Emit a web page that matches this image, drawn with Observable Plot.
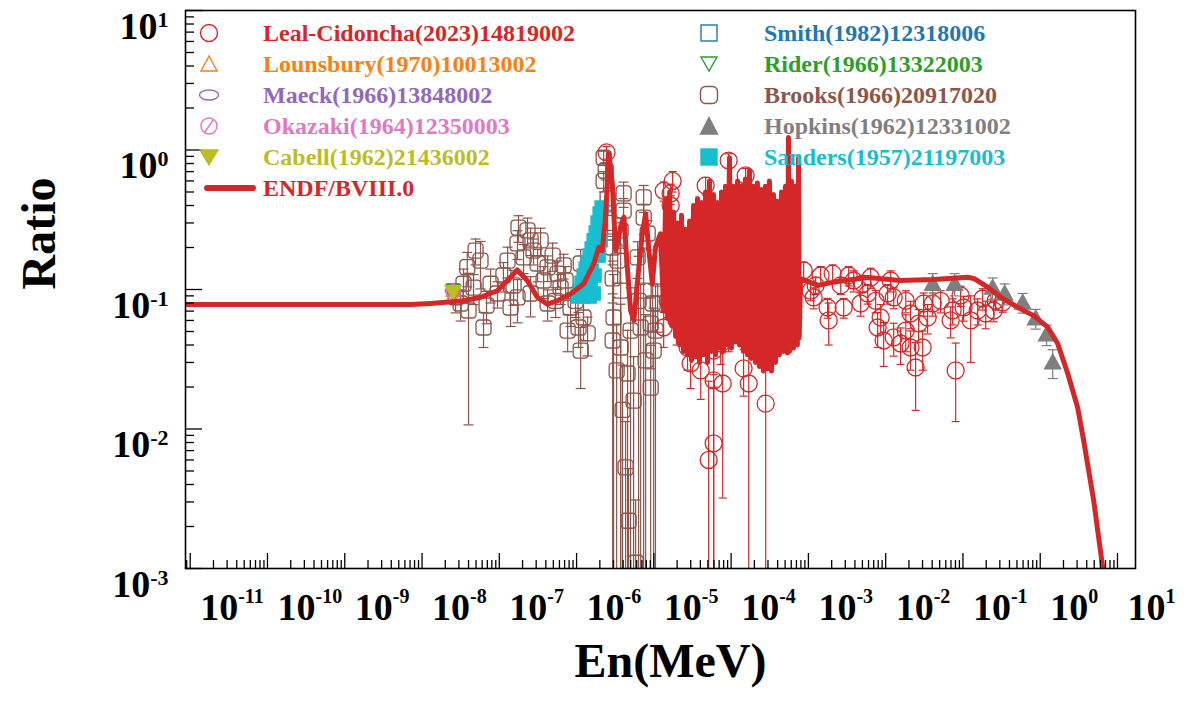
<!DOCTYPE html>
<html><head><meta charset="utf-8">
<script src="https://cdn.jsdelivr.net/npm/d3@7"></script>
<script src="https://cdn.jsdelivr.net/npm/@observablehq/plot@0.6"></script>
<style>
body{margin:0;background:#fff;}
#wrap{position:relative;width:1193px;height:701px;font-family:"Liberation Serif","Times New Roman",serif;}
.leg{position:absolute;font-weight:bold;font-size:24px;line-height:30px;white-space:nowrap;}
.ico{position:absolute;}
</style></head><body><div id="wrap"></div>
<script>
// ---------- axis ticks ----------
const xTicks = [1e-11,1e-10,1e-9,1e-8,1e-7,1e-6,1e-5,1e-4,1e-3,1e-2,1e-1,1,10];
const xTickLabels = ["10^-11","10^-10","10^-9","10^-8","10^-7","10^-6","10^-5","10^-4","10^-3","10^-2","10^-1","10^0","10^1"];
const yTicks = [1e-3,1e-2,1e-1,1,10];
const yTickLabels = ["10^-3","10^-2","10^-1","10^0","10^1"];

// ---------- ENDF/B-VIII.0 ----------
const endfE = [8.7e-12,7.1e-9,1.29e-8,3.45e-8,5.73e-8,9.42e-8,1.27e-7,1.71e-7,2.30e-7,3.10e-7,4.18e-7,5.62e-7,8.36e-7,1.24e-6,1.67e-6,1.94e-6,2.15e-6,2.37e-6,2.62e-6,2.90e-6,3.20e-6,3.71e-6,4.10e-6,4.53e-6,5.0e-6,5.52e-6,6.1e-6,7.08e-6,7.82e-6,8.63e-6,9.55e-6,1.05e-5,1.22e-5,
1.34e-5,1.42e-5,1.51e-5,1.60e-5,1.70e-5,1.80e-5,1.91e-5,2.03e-5,2.15e-5,2.28e-5,2.42e-5,2.57e-5,2.73e-5,2.90e-5,3.07e-5,3.26e-5,3.46e-5,3.67e-5,3.90e-5,4.14e-5,4.39e-5,4.66e-5,4.95e-5,5.25e-5,5.57e-5,5.91e-5,6.28e-5,6.66e-5,7.07e-5,7.50e-5,7.96e-5,8.45e-5,8.97e-5,9.52e-5,
1.01e-4,1.07e-4,1.14e-4,1.21e-4,1.28e-4,1.36e-4,1.44e-4,1.53e-4,1.63e-4,1.73e-4,1.83e-4,1.95e-4,2.07e-4,2.19e-4,2.33e-4,2.47e-4,2.62e-4,2.78e-4,2.95e-4,3.13e-4,3.33e-4,3.53e-4,3.75e-4,3.98e-4,4.22e-4,4.48e-4,4.76e-4,5.05e-4,5.36e-4,5.52e-4,5.69e-4,6.04e-4,6.40e-4,6.80e-4,7.20e-4,7.45e-4,7.60e-4,7.90e-4,
1.32e-3,2.12e-3,5.85e-3,0.0156,0.0418,0.115,0.138,0.209,0.308,0.51,0.82,1.25,1.68,2.27,3.05,3.65,4.92,6.43,6.9];
const endfR = [0.078,0.078,0.0795,0.083,0.088,0.098,0.116,0.138,0.116,0.088,0.0785,0.083,0.093,0.110,0.153,0.201,0.19,0.33,0.94,0.573,0.19,0.28,0.33,0.1445,0.0707,0.060,0.110,0.251,0.349,0.19,0.110,0.201,0.251,
0.070,0.45,0.062,0.50,0.055,0.36,0.046,0.30,0.040,0.34,0.036,0.27,0.034,0.31,0.031,0.40,0.033,0.45,0.030,0.42,0.034,0.50,0.030,0.60,0.036,0.48,0.034,0.42,0.038,0.50,0.036,0.55,0.040,0.88,
0.038,0.55,0.042,0.60,0.040,0.55,0.036,0.62,0.034,0.71,0.032,0.55,0.030,0.58,0.028,0.52,0.026,0.55,0.027,0.60,0.026,0.48,0.030,0.43,0.034,0.50,0.036,0.55,0.035,1.23,0.036,0.60,0.038,0.55,0.040,0.88,0.045,0.12,
0.107,0.113,0.122,0.116,0.118,0.1225,0.12,0.104,0.088,0.0747,0.065,0.0537,0.041,0.025,0.01426,0.00828,0.00307,0.00102,0.0007];

// ---------- Leal-Cidoncha (2023) 14819002 ----------
const lealE = [2.44e-6,1.34e-5,1.34e-5,1.51e-5,1.51e-5,1.65e-5,1.65e-5,1.75e-5,1.97e-5,1.97e-5,2.73e-5,2.99e-5,4.04e-5,4.68e-5,5.12e-5,5.94e-5,5.94e-5,5.94e-5,7.33e-5,7.78e-5,9.29e-5,9.29e-5,1.45e-4,1.54e-4,1.69e-4,2.8e-4,8.69e-4,1.17e-3,
1.07e-3,1.24e-3,1.44e-3,1.77e-3,1.83e-3,2.06e-3,2.62e-3,2.86e-3,3.32e-3,3.86e-3,4.74e-3,5.04e-3,5.85e-3,6.4e-3,7.41e-3,7.87e-3,8.61e-3,9.42e-3,0.0106,0.0116,0.0127,0.0127,0.0156,0.0182,0.0182,0.021,0.021,0.0244,0.0267,0.0301,0.031,0.0349,0.0406,0.0515,0.0693,0.0736,0.0805,0.0933,0.102,0.126,0.155,0.18,0.197,0.25,0.265,0.327];
const lealR = [0.96,0.51,0.0534,0.19,0.083,0.488,0.40,0.60,0.06,0.137,0.0384,0.0295,0.0263,0.556,0.0060,0.0079,0.0365,0.0223,0.041,0.0212,0.0508,0.84,0.0272,0.657,0.0212,0.0152,0.137,0.0877,
0.098,0.107,0.126,0.0743,0.060,0.130,0.107,0.0743,0.126,0.116,0.0794,0.110,0.0936,0.122,0.083,0.0534,0.063,0.0431,0.0936,0.116,0.0877,0.0453,0.041,0.083,0.0508,0.0384,0.0673,0.0276,0.057,0.0384,0.0794,0.063,0.0794,0.083,0.060,0.0707,0.0263,0.0906,0.0743,0.060,0.0707,0.0862,0.0673,0.0707,0.083,0.0807];
const lealErr = [0.1,0.08,0.015,0.04,0.02,0.08,0.07,0.1,0.02,0.03,0.012,0.01,0.01,0.08,0.016,0.012,0.012,0.03,0.012,0.018,0.015,0.1,0.01,0.08,0.03,0.02,0.02,0.015,
0.015,0.015,0.02,0.012,0.02,0.02,0.015,0.012,0.02,0.02,0.015,0.015,0.015,0.02,0.015,0.015,0.015,0.015,0.015,0.02,0.015,0.012,0.012,0.015,0.015,0.012,0.015,0.014,0.015,0.012,0.015,0.015,0.015,0.015,0.015,0.015,0.015,0.015,0.015,0.03,0.015,0.015,0.015,0.012,0.012,0.012];

// ---------- Brooks (1966) 20917020 ----------
const brooksE = [2.72e-8,3.16e-8,3.44e-8,3.85e-8,4.0e-8,4.65e-8,4.93e-8,5.71e-8,6.25e-8,6.84e-8,7.71e-8,9.48e-8,1.13e-7,1.28e-7,1.40e-7,1.53e-7,1.72e-7,1.77e-7,1.72e-7,2.06e-7,2.32e-7,2.54e-7,2.54e-7,2.77e-7,3.13e-7,3.42e-7,3.74e-7,4.22e-7,4.22e-7,4.9e-7,5.35e-7,5.67e-7,6.21e-7,6.8e-7,7.21e-7,7.66e-7,8.36e-7,9.7e-7,1.06e-6,1.13e-6,1.13e-6,1.23e-6,1.39e-6,
2.24e-6,2.38e-6,2.24e-6,2.52e-6,2.52e-6,2.93e-6,2.93e-6,2.93e-6,3.01e-6,3.3e-6,3.40e-6,3.72e-6,3.72e-6,3.94e-6,4.06e-6,4.06e-6,3.72e-6,4.31e-6,4.57e-6,4.71e-6,5.0e-6,5.47e-6,5.81e-6,6.17e-6,6.35e-6,6.75e-6,7.38e-6,7.38e-6,7.38e-6,7.83e-6,8.32e-6,9.1e-6,9.1e-6,9.66e-6,9.95e-6,1.05e-5,1.12e-5];
const brooksR = [0.088,0.0794,0.110,0.1445,0.0707,0.103,0.19,0.161,0.0534,0.0768,0.110,0.0936,0.126,0.161,0.0743,0.107,0.214,0.278,0.0877,0.170,0.265,0.225,0.0936,0.19,0.1536,0.225,0.116,0.144,0.0794,0.175,0.083,0.130,0.103,0.149,0.116,0.0508,0.0743,0.083,0.0534,0.0365,0.1536,0.063,0.0484,
0.88,0.71,0.60,0.45,0.30,0.20,0.12,0.0431,0.063,0.0263,0.161,0.265,0.098,0.0137,0.488,0.368,0.0384,0.0053,0.025,0.0022,0.0508,0.016,0.0011,0.170,0.083,0.0534,0.457,0.328,0.098,0.031,0.252,0.0198,0.057,0.0794,0.0365,0.0508,0.0794];
const brooksErr = [0.02,0.02,0.03,0.04,0.06,0.025,0.04,0.06,0.015,0.02,0.03,0.02,0.03,0.04,0.02,0.03,0.05,0.06,0.03,0.04,0.06,0.05,0.03,0.04,0.04,0.05,0.03,0.03,0.02,0.04,0.02,0.03,0.025,0.03,0.03,0.015,0.02,0.02,0.015,0.017,0.04,0.02,0.015,
0.1,0.1,0.1,0.08,0.06,0.05,0.04,0.05,0.065,0.03,0.05,0.06,0.1,0.015,0.1,0.08,0.04,0.006,0.026,0.003,0.052,0.017,0.002,0.05,0.09,0.055,0.1,0.08,0.1,0.035,0.06,0.02,0.03,0.03,0.037,0.055,0.03];

// ---------- Hopkins (1962) 12331002 ----------
const hopkinsE = [0.0406,0.078,0.242,0.347,0.593,0.873,1.21,1.45];
const hopkinsR = [0.110,0.110,0.103,0.0936,0.0807,0.062,0.0476,0.030];
const hopkinsErr = [0.02,0.02,0.018,0.016,0.013,0.01,0.008,0.007];

// ---------- Sanders (1957) 21197003 ----------
const sandersE = [1.03e-6,1.094e-6,1.16e-6,1.233e-6,1.31e-6,1.39e-6,1.476e-6,1.567e-6,1.665e-6,1.768e-6,1.87e-6,1.99e-6,2.11e-6,1.35e-6,1.52e-6,1.71e-6,1.93e-6,2.05e-6,1.233e-6,1.476e-6,1.665e-6,1.39e-6,1.567e-6,1.768e-6,1.99e-6];
const sandersR = [0.089,0.098,0.112,0.126,0.1415,0.156,0.175,0.197,0.225,0.256,0.302,0.351,0.387,0.0951,0.107,0.126,0.175,0.225,0.089,0.089,0.0936,0.116,0.137,0.175,0.225];

// ---------- thermal-point measurements (0.0253 eV) ----------
const thermalE = 2.53e-8;
const smithR = 0.0995, riderR = 0.099, lounsburyR = 0.0985, maeckR = 0.098, okazakiR = 0.096, cabellR = 0.096;

// ---------- colours ----------
const C = {leal:"#d62728", lounsbury:"#ff7f0e", maeck:"#9467bd", okazaki:"#e377c2", cabell:"#bcbd22",
  smith:"#1f77b4", rider:"#2ca02c", brooks:"#8c564b", hopkins:"#7f7f7f", sanders:"#17becf", endf:"#d62728"};

// ---------- tables ----------
const rows = (E, R, Er) => E.map((e, i) => ({E: e, R: R[i], err: Er ? Er[i] : 0}));
const endf = rows(endfE, endfR);
const leal = rows(lealE, lealR, lealErr);
const brooks = rows(brooksE, brooksR, brooksErr);
const hopkins = rows(hopkinsE, hopkinsR, hopkinsErr);
const sanders = rows(sandersE, sandersR);

const minorX = [], minorY = [];
for (let n = -12; n <= 1; n++) for (let k = 2; k <= 9; k++) { const v = k * 10 ** n; if (v > 8.7e-12 && v < 17) minorX.push(v); }
for (let n = -3; n <= 0; n++) for (let k = 2; k <= 9; k++) minorY.push(k * 10 ** n);

// ---------- custom symbols ----------
const rad = s => Math.sqrt(s / Math.PI);
const sym = {
  roundSquare: {draw(c, s) { const r = rad(s), k = r * 0.45;
    c.moveTo(-r + k, -r); c.lineTo(r - k, -r); c.arcTo(r, -r, r, -r + k, k); c.lineTo(r, r - k); c.arcTo(r, r, r - k, r, k);
    c.lineTo(-r + k, r); c.arcTo(-r, r, -r, r - k, k); c.lineTo(-r, -r + k); c.arcTo(-r, -r, -r + k, -r, k); c.closePath(); }},
  square: {draw(c, s) { const r = rad(s); c.rect(-r, -r, 2 * r, 2 * r); }},
  triUp: {draw(c, s) { const r = rad(s); c.moveTo(0, -r); c.lineTo(r, r * 0.8); c.lineTo(-r, r * 0.8); c.closePath(); }},
  triDown: {draw(c, s) { const r = rad(s); c.moveTo(0, r); c.lineTo(r, -r * 0.8); c.lineTo(-r, -r * 0.8); c.closePath(); }},
  cap: {draw(c, s) { const r = rad(s); c.moveTo(-r, 0); c.lineTo(r, 0); }},
  ellipse: {draw(c, s) { const a = rad(s), b = a * 0.5, k = 0.5523;
    c.moveTo(a, 0); c.bezierCurveTo(a, b * k, a * k, b, 0, b); c.bezierCurveTo(-a * k, b, -a, b * k, -a, 0);
    c.bezierCurveTo(-a, -b * k, -a * k, -b, 0, -b); c.bezierCurveTo(a * k, -b, a, -b * k, a, 0); c.closePath(); }},
  circleSlash: {draw(c, s) { const r = rad(s); c.moveTo(r, 0); c.arc(0, 0, r, 0, 2 * Math.PI);
    c.moveTo(r * 0.55, -r * 0.8); c.lineTo(-r * 0.55, r * 0.8); }}
};

const lo = d => Math.max(d.R - d.err, 1e-6);
const hi = d => d.R + d.err;
function errMarks(data, color, capR) {
  return [
    Plot.ruleX(data, {x: "E", y1: lo, y2: hi, stroke: color, strokeWidth: 1.2, clip: true}),
    Plot.dot(data, {x: "E", y: lo, symbol: sym.cap, r: capR, stroke: color, strokeWidth: 1.2, clip: true}),
    Plot.dot(data, {x: "E", y: hi, symbol: sym.cap, r: capR, stroke: color, strokeWidth: 1.2, clip: true})
  ];
}
const thermal = (R, s, r, color, filled) => Plot.dot([{E: thermalE, R}], {x: "E", y: "R", symbol: s, r,
  stroke: color, fill: filled ? color : "none", strokeWidth: 1.3, clip: true});

const W = 1193, H = 701, ML = 185, MR = 58, MT = 10, MB = 133;
const FW = W - ML - MR, FH = H - MT - MB;

const chart = Plot.plot({
  width: W, height: H, marginLeft: ML, marginRight: MR, marginTop: MT, marginBottom: MB,
  x: {type: "log", domain: [8.69e-12, 17.1], axis: null},
  y: {type: "log", domain: [1e-3, 10], axis: null},
  style: {background: "white", fontFamily: "'Liberation Serif','Times New Roman',serif", color: "black"},
  marks: [
    ...errMarks(brooks, C.brooks, 5),
    Plot.dot(brooks, {x: "E", y: "R", symbol: sym.roundSquare, r: 7.5, stroke: C.brooks, fill: "none", strokeWidth: 1.3, clip: true}),
    ...errMarks(leal, C.leal, 4),
    Plot.dot(leal, {x: "E", y: "R", symbol: "circle", r: 8.5, stroke: C.leal, fill: "none", strokeWidth: 1.3, clip: true}),
    thermal(smithR, sym.square, 6, C.smith, false),
    thermal(riderR, sym.triDown, 7, C.rider, false),
    thermal(lounsburyR, sym.triUp, 7, C.lounsbury, false),
    thermal(maeckR, sym.ellipse, 8, C.maeck, false),
    thermal(okazakiR, sym.circleSlash, 7, C.okazaki, false),
    thermal(cabellR, sym.triDown, 8, C.cabell, true),
    ...errMarks(hopkins, C.hopkins, 5),
    Plot.dot(hopkins, {x: "E", y: "R", symbol: sym.triUp, r: 8, fill: C.hopkins, stroke: C.hopkins, clip: true}),
    Plot.dot(sanders, {x: "E", y: "R", symbol: sym.square, r: 6.5, fill: C.sanders, stroke: C.sanders, clip: true}),
    Plot.line(endf, {x: "E", y: "R", stroke: C.endf, strokeWidth: 5, strokeLinejoin: "round", strokeLinecap: "round", clip: true}),
    Plot.tickX(xTicks, {x: d => d, stroke: "black", strokeWidth: 1.3, insetTop: FH - 15}),
    Plot.tickX(minorX, {x: d => d, stroke: "black", strokeWidth: 1.3, insetTop: FH - 8}),
    Plot.tickY(yTicks, {y: d => d, stroke: "black", strokeWidth: 1.3, insetRight: FW - 17}),
    Plot.tickY(minorY, {y: d => d, stroke: "black", strokeWidth: 1.3, insetRight: FW - 9}),
    Plot.frame({stroke: "black", strokeWidth: 1.6}),
    Plot.text(xTicks, {x: d => d, text: (d, i) => xTickLabels[i], frameAnchor: "bottom", lineAnchor: "top", textAnchor: "start",
      dx: 10, dy: 25, fontSize: 38, fontWeight: "bold", fill: "black"}),
    Plot.text(yTicks, {y: d => d, text: (d, i) => yTickLabels[i], frameAnchor: "left", textAnchor: "end",
      dx: -17, dy: 16, fontSize: 38, fontWeight: "bold", fill: "black"}),
    Plot.text(["Ratio"], {text: d => d, frameAnchor: "left", dx: -146, rotate: -90, fontSize: 48, fontWeight: "bold", fill: "black"}),
    Plot.text(["En(MeV)"], {text: d => d, frameAnchor: "bottom", dx: 10, dy: 108, fontSize: 48, fontWeight: "bold", fill: "black"})
  ]
});

// superscript exponents: x labels are start-anchored, y labels end-anchored
const ns = "http://www.w3.org/2000/svg";
chart.querySelectorAll("text").forEach(t => {
  const m = t.textContent.match(/^10\^(.+)$/);
  if (!m) return;
  const anc = t.closest("[text-anchor]");
  const isY = anc && anc.getAttribute("text-anchor") === "end";
  const size = isY ? 22 : 20, raise = isY ? 12 : 17;
  while (t.firstChild) t.removeChild(t.firstChild);
  const a = document.createElementNS(ns, "tspan"); a.textContent = "10"; t.appendChild(a);
  const b = document.createElementNS(ns, "tspan"); b.setAttribute("dy", -raise); b.setAttribute("font-size", size);
  b.textContent = m[1]; t.appendChild(b);
});

const wrap = document.getElementById("wrap");
wrap.appendChild(chart);

// ---------- legend ----------
const legendItems = [
  {label: "Leal-Cidoncha(2023)14819002", color: C.leal, icon: "circle", col: 0, row: 0},
  {label: "Lounsbury(1970)10013002", color: C.lounsbury, icon: "triUp", col: 0, row: 1},
  {label: "Maeck(1966)13848002", color: C.maeck, icon: "ellipse", col: 0, row: 2},
  {label: "Okazaki(1964)12350003", color: C.okazaki, icon: "circleSlash", col: 0, row: 3},
  {label: "Cabell(1962)21436002", color: C.cabell, icon: "triDownFill", col: 0, row: 4},
  {label: "ENDF/BVIII.0", color: C.endf, icon: "line", col: 0, row: 5},
  {label: "Smith(1982)12318006", color: C.smith, icon: "square", col: 1, row: 0},
  {label: "Rider(1966)13322003", color: C.rider, icon: "triDown", col: 1, row: 1},
  {label: "Brooks(1966)20917020", color: C.brooks, icon: "roundSquare", col: 1, row: 2},
  {label: "Hopkins(1962)12331002", color: C.hopkins, icon: "triUpFill", col: 1, row: 3},
  {label: "Sanders(1957)21197003", color: C.sanders, icon: "squareFill", col: 1, row: 4}
];
const colMarkX = [209, 709], colTextX = [263, 764], rowY0 = 33, rowStep = 31;
function iconSvg(kind, c) {
  const s = `stroke="${c}" stroke-width="1.4"`;
  switch (kind) {
    case "circle": return `<circle cx="12" cy="12" r="8.5" fill="none" ${s}/>`;
    case "triUp": return `<path d="M12,4 L20,19 L4,19 Z" fill="none" ${s}/>`;
    case "ellipse": return `<ellipse cx="12" cy="12" rx="9.5" ry="5" fill="none" ${s}/>`;
    case "circleSlash": return `<circle cx="12" cy="12" r="8" fill="none" ${s}/><line x1="16.5" y1="5.5" x2="7.5" y2="18.5" ${s}/>`;
    case "triDownFill": return `<path d="M3,5 L21,5 L12,20 Z" fill="${c}" ${s}/>`;
    case "square": return `<rect x="4" y="4" width="16" height="16" fill="none" ${s}/>`;
    case "triDown": return `<path d="M4,5 L20,5 L12,19 Z" fill="none" ${s}/>`;
    case "roundSquare": return `<rect x="3.5" y="3.5" width="17" height="17" rx="5" fill="none" ${s}/>`;
    case "triUpFill": return `<path d="M12,3.5 L20.5,20 L3.5,20 Z" fill="${c}" ${s}/>`;
    case "squareFill": return `<rect x="4" y="4" width="16" height="16" fill="${c}" ${s}/>`;
  }
  return "";
}
legendItems.forEach(it => {
  const y = rowY0 + it.row * rowStep;
  const ic = document.createElement("div");
  ic.className = "ico";
  if (it.icon === "line") {
    ic.style.left = (colMarkX[it.col] - 5) + "px"; ic.style.top = (y - 12) + "px";
    ic.innerHTML = `<svg width="56" height="24"><line x1="3" y1="12" x2="49" y2="12" stroke="${it.color}" stroke-width="6" stroke-linecap="round"/></svg>`;
  } else {
    ic.style.left = (colMarkX[it.col] - 12) + "px"; ic.style.top = (y - 12) + "px";
    ic.innerHTML = `<svg width="24" height="24">${iconSvg(it.icon, it.color)}</svg>`;
  }
  wrap.appendChild(ic);
  const t = document.createElement("div");
  t.className = "leg";
  t.style.left = colTextX[it.col] + "px"; t.style.top = (y - 15) + "px"; t.style.color = it.color;
  t.textContent = it.label;
  wrap.appendChild(t);
});
</script></body></html>
